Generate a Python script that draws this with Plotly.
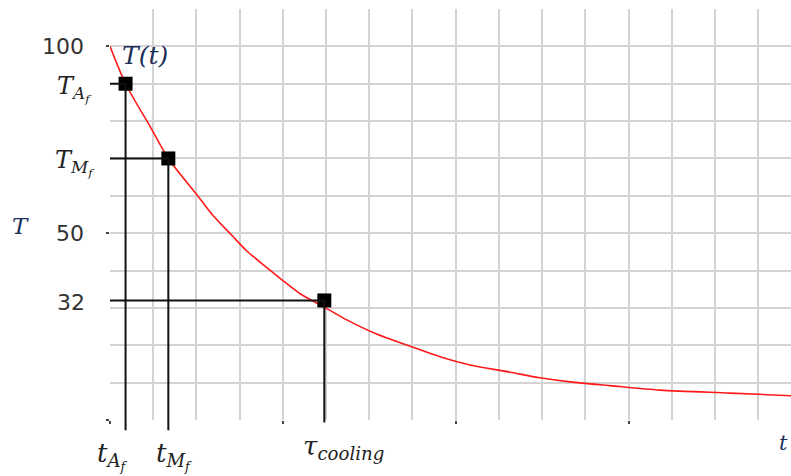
import plotly.graph_objects as go

# Cooling curve T(t), read in grid units of time
t_curve = [0, 0.36, 0.93, 1.35, 2.01, 2.38, 2.83, 3.16, 3.63, 3.97, 4.40, 4.96,
           5.48, 6.17, 6.98, 7.64, 8.33, 9.26, 9.95, 10.65, 11.57, 12.73, 14.35, 15.76]
T_curve = [100, 90, 78.5, 70, 60.3, 54.8, 49.3, 45.3, 40.8, 37.6, 33.8, 30.2,
           26.8, 23.0, 19.6, 16.9, 14.7, 12.8, 11.3, 10.2, 9.2, 8.0, 7.2, 6.5]

# Marked points: A_f finish, M_f finish, cooling time
mark_t = [0.36, 1.35, 4.96]
mark_T = [90, 70, 32]
mark_t_labels = ["<i>t</i><sub><i>A<sub>f</sub></i></sub>",
                 "<i>t</i><sub><i>M<sub>f</sub></i></sub>",
                 "<i>τ</i><sub><i>cooling</i></sub>"]
mark_T_labels = ["<i>T</i><sub><i>A<sub>f</sub></i></sub>",
                 "<i>T</i><sub><i>M<sub>f</sub></i></sub>",
                 "32"]

y_num_vals = [100, 50]
y_num_text = ["100", "50"]

x_max = 15.76
y_max = 110

MATH = "DejaVu Serif"
NUM = "DejaVu Sans"
INK = "#1c2f5a"

fig = go.Figure()

# guide lines from the axes to each marked point
for tv, Tv in zip(mark_t, mark_T):
    fig.add_shape(type="line", xref="x", yref="y", x0=0, x1=tv, y0=Tv, y1=Tv,
                  line=dict(color="#111", width=2))
    fig.add_shape(type="line", xref="x", yref="y", x0=tv, x1=tv, y0=0, y1=Tv,
                  line=dict(color="#111", width=2))
# short stubs of the vertical guides below the axis
stub = [-0.025, -0.025, -0.006]
for tv, s in zip(mark_t, stub):
    fig.add_shape(type="line", xref="x", yref="paper", x0=tv, x1=tv, y0=s, y1=0,
                  line=dict(color="#111", width=2))

fig.add_trace(go.Scatter(x=t_curve, y=T_curve, mode="lines",
                         line=dict(color="#ff1a1a", width=1.6, shape="spline", smoothing=0.8),
                         hoverinfo="skip"))
fig.add_trace(go.Scatter(x=mark_t, y=mark_T, mode="markers",
                         marker=dict(symbol="square", size=14, color="#000"),
                         cliponaxis=False, hoverinfo="skip"))

annotations = []
# numeric y labels
for v, txt in zip(y_num_vals, y_num_text):
    annotations.append(dict(x=0, xref="paper", y=v, yref="y", text=txt,
                            xanchor="right", yanchor="middle", xshift=-24, showarrow=False,
                            font=dict(family=NUM, size=22, color="#333")))
# labels of the marked temperatures
T_shift = [(-16, -5), (-13, -5), (-23, -2)]
for Tv, txt, (xs, ys) in zip(mark_T, mark_T_labels, T_shift):
    is_num = txt[0].isdigit()
    annotations.append(dict(x=0, xref="paper", y=Tv, yref="y", text=txt,
                            xanchor="right", yanchor="middle", xshift=xs, yshift=ys,
                            showarrow=False,
                            font=dict(family=NUM if is_num else MATH,
                                      size=22 if is_num else 24,
                                      color="#333" if is_num else "#222")))
# labels of the marked times
t_shift = [-13, 6, 19]
t_yshift = [-16, -16, -9]
t_size = [26, 26, 26]
for tv, txt, xs, ys, sz in zip(mark_t, mark_t_labels, t_shift, t_yshift, t_size):
    annotations.append(dict(x=tv, xref="x", y=0, yref="paper", text=txt,
                            xanchor="center", yanchor="top", xshift=xs, yshift=ys,
                            showarrow=False, font=dict(family=MATH, size=sz, color="#222")))
# curve name and axis names
annotations.append(dict(x=0, xref="x", y=100, yref="y", text="<i>T(t)</i>",
                        xanchor="left", yanchor="middle", xshift=10, yshift=-9,
                        showarrow=False, font=dict(family=MATH, size=25, color=INK)))
annotations.append(dict(x=0, xref="paper", y=52, yref="y", text="<i>T</i>",
                        xanchor="center", yanchor="middle", xshift=-90,
                        showarrow=False, font=dict(family=MATH, size=23, color=INK)))
annotations.append(dict(x=1, xref="paper", y=0, yref="paper", text="<i>t</i>",
                        xanchor="right", yanchor="top", xshift=-1, yshift=-9,
                        showarrow=False, font=dict(family=MATH, size=21, color=INK)))

grid = "#d3d3d3"
fig.update_layout(
    width=791, height=476,
    margin=dict(l=110, r=0, t=9, b=56),
    paper_bgcolor="white", plot_bgcolor="white",
    showlegend=False,
    annotations=annotations,
    xaxis=dict(range=[0, x_max], tick0=0, dtick=4, showgrid=True, gridcolor=grid,
               gridwidth=2, zeroline=False, showline=False, showticklabels=False,
               ticks="outside", ticklen=3, tickwidth=2, tickcolor="#444",
               minor=dict(tick0=0, dtick=1, showgrid=True, gridcolor=grid, gridwidth=2)),
    yaxis=dict(range=[0, y_max], tick0=0, dtick=50, showgrid=True, gridcolor=grid,
               gridwidth=2, zeroline=False, showline=False, showticklabels=False,
               ticks="outside", ticklen=3, tickwidth=2, tickcolor="#444",
               minor=dict(tick0=0, dtick=10, showgrid=True, gridcolor=grid, gridwidth=2)),
)

fig.write_html("out.html")
